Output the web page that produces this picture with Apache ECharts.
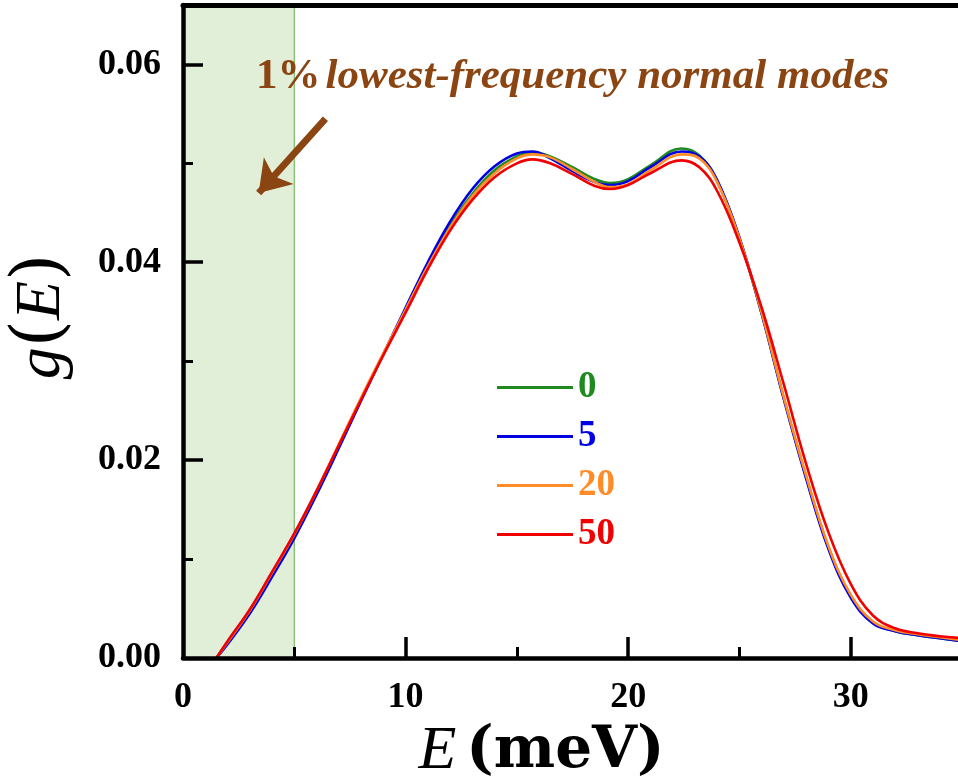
<!DOCTYPE html>
<html>
<head>
<meta charset="utf-8">
<script src="https://cdn.jsdelivr.net/npm/echarts@6/dist/echarts.min.js"></script>
<style>
html,body{margin:0;padding:0;background:#fff;}
#c{width:958px;height:776px;}
</style>
</head>
<body>
<div id="c"></div>
<script>
// ---- data ----
var energies = [1.5, 2, 3, 4, 5, 6, 7, 8, 9, 10, 11, 12, 13, 14, 15, 15.7, 16.5, 17.5, 18.5, 19.2, 20, 21, 22.4, 23.2, 24, 25, 26, 27, 28, 29, 30, 31, 32, 33, 34, 35];
var g0 = [0, 0.0016, 0.0048, 0.0086, 0.0125, 0.0168, 0.0214, 0.0261, 0.0307, 0.0352, 0.0397, 0.0437, 0.0469, 0.0493, 0.0507, 0.0511, 0.0507, 0.0496, 0.0484, 0.0480, 0.0484, 0.0498, 0.0515, 0.0508, 0.0482, 0.0424, 0.0348, 0.0262, 0.0183, 0.0112, 0.0063, 0.0036, 0.0027, 0.0023, 0.0020, 0.0017];
var g5 = [0, 0.0014, 0.0045, 0.0082, 0.0121, 0.0165, 0.0212, 0.0260, 0.0307, 0.0354, 0.0400, 0.0441, 0.0474, 0.0497, 0.0510, 0.0512, 0.0505, 0.0492, 0.0481, 0.0478, 0.0482, 0.0496, 0.0512, 0.0507, 0.0483, 0.0425, 0.0348, 0.0261, 0.0181, 0.0110, 0.0061, 0.0035, 0.0027, 0.0023, 0.0020, 0.0017];
var g20 = [0, 0.0016, 0.0048, 0.0086, 0.0125, 0.0169, 0.0216, 0.0263, 0.0308, 0.0352, 0.0396, 0.0435, 0.0467, 0.0490, 0.0505, 0.0509, 0.0506, 0.0494, 0.0481, 0.0476, 0.0479, 0.0493, 0.0509, 0.0505, 0.0481, 0.0424, 0.0349, 0.0263, 0.0184, 0.0113, 0.0064, 0.0037, 0.0028, 0.0024, 0.0021, 0.0018];
var g50 = [0, 0.0017, 0.0049, 0.0087, 0.0126, 0.0169, 0.0215, 0.0261, 0.0306, 0.0349, 0.0393, 0.0432, 0.0463, 0.0486, 0.0500, 0.0504, 0.0500, 0.0489, 0.0477, 0.0474, 0.0478, 0.0490, 0.0503, 0.0496, 0.0472, 0.0420, 0.0354, 0.0276, 0.0196, 0.0127, 0.0075, 0.0043, 0.0030, 0.0025, 0.0022, 0.0020];
var seriesNames = ['0', '5', '20', '50'];
var seriesColors = ['#1f8a1f', '#0000e0', '#ff8c28', '#f00000'];
var xMajorTicks = [0, 10, 20, 30];
var xMinorTicks = [5, 15, 25];
var yMajorTicks = [0, 0.02, 0.04, 0.06];
var yMinorTicks = [0.01, 0.03, 0.05];
var shadeRange = [0, 5];
var arrowFrom = [6.4, 0.0545];
var arrowTo = [3.4, 0.0470];
var annotationText = 'lowest-frequency normal modes';

var FONT = '"Liberation Serif","Times New Roman",serif';
var FONT2 = '"DejaVu Serif",serif';
var X_MAX = 35, Y_MAX = 0.066;

function pairs(xs, ys){ return xs.map(function(x,i){ return [x, ys[i]]; }); }
var allData = [g0, g5, g20, g50];

var series = seriesNames.map(function(n, i){
  var s = {
    name: n, type: 'line', data: pairs(energies, allData[i]),
    smooth: 0.4, symbol: 'none', showSymbol: false,
    lineStyle: {color: seriesColors[i], width: 2.6},
    itemStyle: {color: seriesColors[i]},
    z: 3 + i
  };
  if (i === 0) {
    s.markArea = {
      silent: true,
      itemStyle: {color: '#e2efd8', borderColor: '#7cbd66', borderWidth: 1.2},
      data: [[{xAxis: shadeRange[0], yAxis: 0}, {xAxis: shadeRange[1], yAxis: Y_MAX}]]
    };
    s.markLine = {
      silent: true, symbol: ['none', 'arrow'], symbolSize: [30, 30],
      lineStyle: {color: '#8b4513', width: 7, type: 'solid'},
      label: {show: false},
      data: [[{coord: arrowFrom}, {coord: arrowTo}]]
    };
  }
  return s;
});

var chart = echarts.init(document.getElementById('c'), null, {renderer: 'canvas'});
chart.setOption({
  animation: false,
  backgroundColor: '#fff',
  title: {
    text: '{a|1%} {b|' + annotationText + '}',
    left: 256, top: 55, padding: 0,
    textStyle: {
      rich: {
        a: {fontFamily: FONT, fontWeight: 'bold', fontSize: 43, color: '#8b4513'},
        b: {fontFamily: FONT, fontWeight: 'bold', fontStyle: 'italic', fontSize: 43, color: '#8b4513'}
      }
    }
  },
  legend: {
    orient: 'vertical', left: 492, top: 364, itemGap: 12,
    itemWidth: 76, itemHeight: 3,
    data: seriesNames.map(function(n, i){
      return {name: n, icon: 'rect', itemStyle: {color: seriesColors[i]},
        textStyle: {color: seriesColors[i], fontFamily: FONT, fontWeight: 'bold', fontSize: 37, lineHeight: 37}};
    }),
    textStyle: {fontFamily: FONT, fontWeight: 'bold', fontSize: 37}
  },
  grid: {left: 183, right: -4, top: 5, bottom: 118, containLabel: false, outerBoundsMode: 'none'},
  xAxis: [{
    type: 'value', min: 0, max: X_MAX, position: 'bottom', z: 10,
    axisLine: {show: true, onZero: false, lineStyle: {color: '#000', width: 4.5}},
    axisTick: {show: true, inside: true, length: 21, customValues: xMajorTicks.slice(1), lineStyle: {color: '#000', width: 3.5}},
    axisLabel: {show: true, customValues: xMajorTicks, margin: 22, fontFamily: FONT, fontWeight: 'bold', fontSize: 36, color: '#000',
      formatter: function(v){ return String(Math.round(v)); }},
    splitLine: {show: false},
    name: '{i|E}   {b|(meV)}', nameLocation: 'middle', nameGap: 44,
    nameTextStyle: {padding: [0, 62, 0, 0], rich: {
      i: {fontFamily: FONT, fontStyle: 'italic', fontSize: 62, color: '#000'},
      b: {fontFamily: FONT2, fontWeight: 'bold', fontSize: 58, color: '#000'}
    }}
  }, {
    type: 'value', min: 0, max: X_MAX, position: 'bottom', z: 10,
    axisLine: {show: false},
    axisTick: {show: true, inside: true, length: 11, customValues: xMinorTicks, lineStyle: {color: '#000', width: 3}},
    axisLabel: {show: false}, splitLine: {show: false}
  }, {
    type: 'value', min: 0, max: X_MAX, position: 'top', z: 10,
    axisLine: {show: true, onZero: false, lineStyle: {color: '#000', width: 5}},
    axisTick: {show: false}, axisLabel: {show: false}, splitLine: {show: false}
  }],
  yAxis: [{
    type: 'value', min: 0, max: Y_MAX, position: 'left', z: 10,
    axisLine: {show: true, onZero: false, lineStyle: {color: '#000', width: 4.5}},
    axisTick: {show: true, inside: true, length: 20, customValues: yMajorTicks.slice(1), lineStyle: {color: '#000', width: 3.5}},
    axisLabel: {show: true, customValues: yMajorTicks, margin: 22, fontFamily: FONT, fontWeight: 'bold', fontSize: 36, color: '#000',
      formatter: function(v){ return v.toFixed(2); }},
    splitLine: {show: false},
    name: '{i|g}{n|(}{i|E}{n|)}', nameLocation: 'middle', nameGap: 106, nameRotate: 90,
    nameTextStyle: {padding: [0, 0, 0, 30], rich: {
      i: {fontFamily: FONT, fontStyle: 'italic', fontSize: 64, color: '#000'},
      n: {fontFamily: FONT2, fontSize: 70, color: '#000'}
    }}
  }, {
    type: 'value', min: 0, max: Y_MAX, position: 'left', z: 10,
    axisLine: {show: false},
    axisTick: {show: true, inside: true, length: 10, customValues: yMinorTicks, lineStyle: {color: '#000', width: 3}},
    axisLabel: {show: false}, splitLine: {show: false}
  }],
  series: series
});
</script>
</body>
</html>
